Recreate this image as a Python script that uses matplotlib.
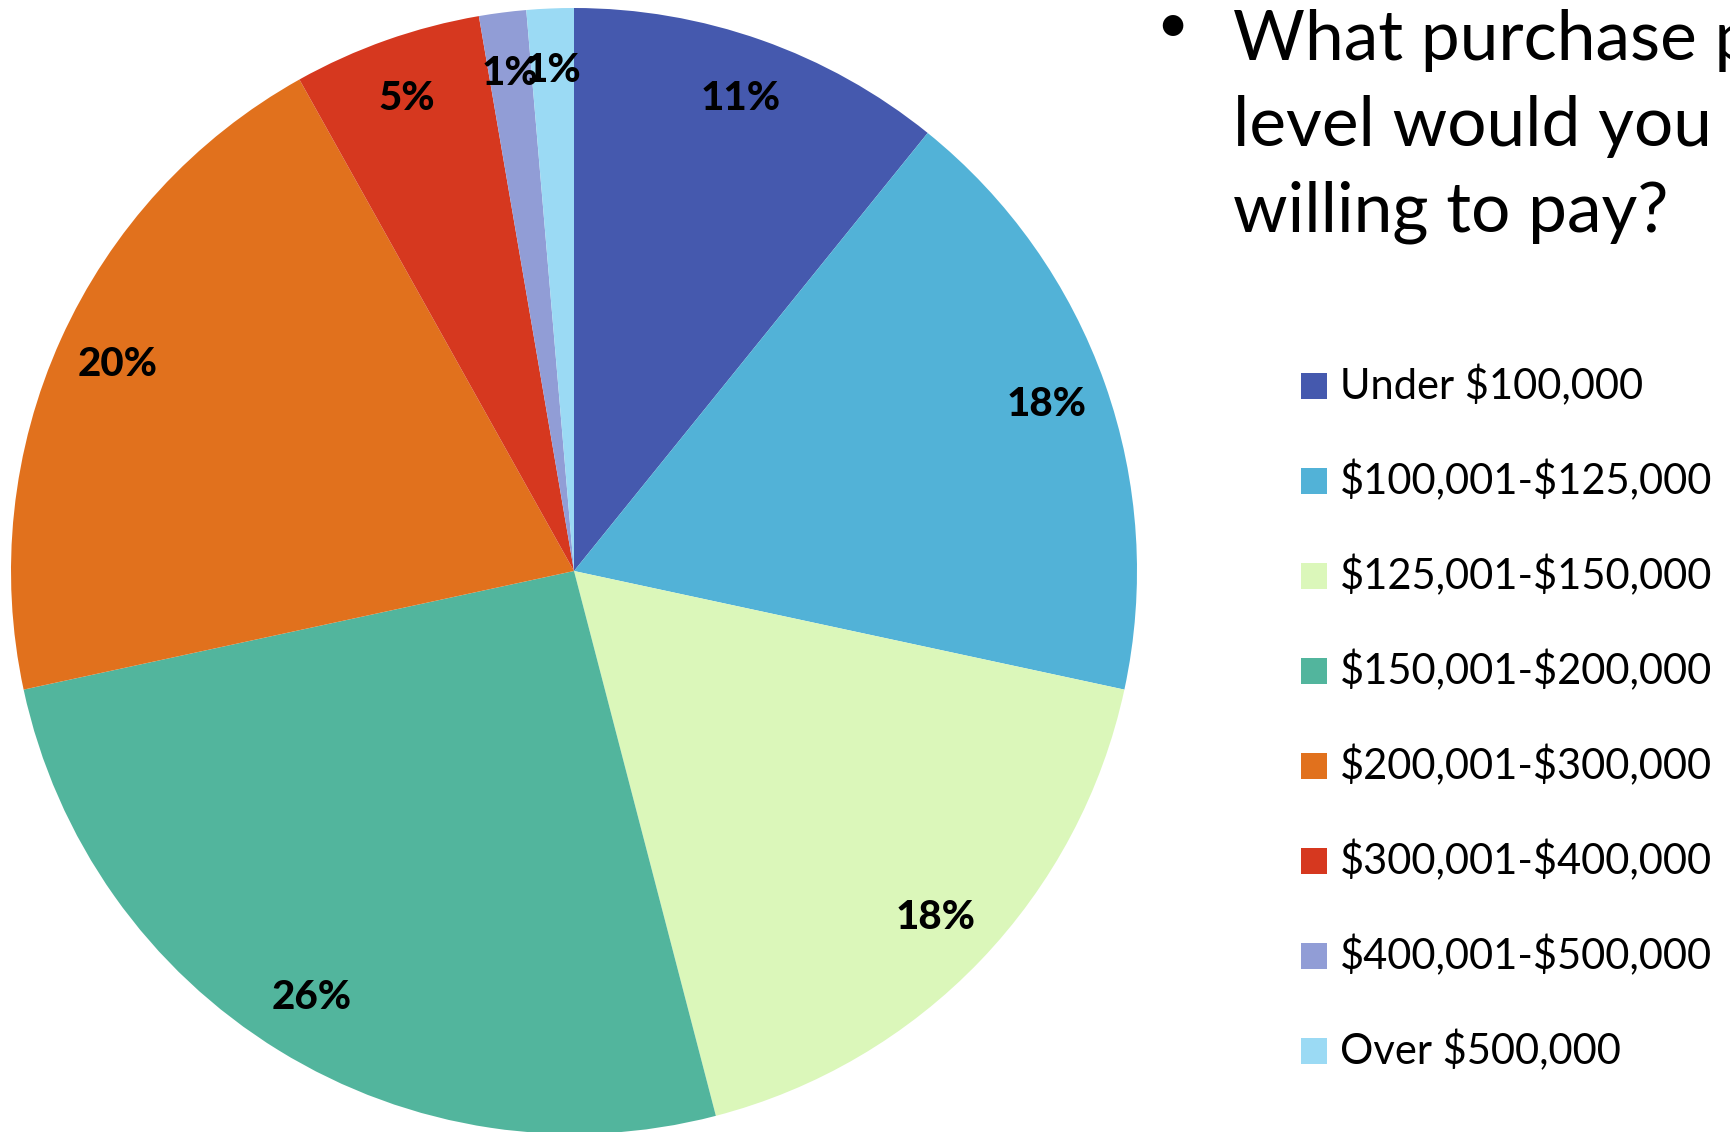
import matplotlib
matplotlib.use("Agg")
import matplotlib.pyplot as plt
from matplotlib.patches import Rectangle

categories = ["Under $100,000", "$100,001-$125,000", "$125,001-$150,000",
              "$150,001-$200,000", "$200,001-$300,000", "$300,001-$400,000",
              "$400,001-$500,000", "Over $500,000"]
counts = [8, 13, 13, 19, 15, 4, 1, 1]
colors = ["#4559AE", "#52B2D7", "#DBF7BA", "#52B59D",
          "#E1711D", "#D6381F", "#919DD6", "#9BDAF4"]
title_lines = ["What purchase price", "level would you be", "willing to pay?"]

plt.rcParams["text.usetex"] = False
plt.rcParams["text.parse_math"] = False

W, H = 1731, 1132
fig = plt.figure(figsize=(W / 100, H / 100), dpi=100)
fig.patch.set_facecolor("white")

FONT = "Lato"

# pie axes
cx, cy, R = 574, 571, 563
ax = fig.add_axes([(cx - R) / W, (H - cy - R) / H, 2 * R / W, 2 * R / H])
wedges, texts, autotexts = ax.pie(
    counts, colors=colors, startangle=90, counterclock=False,
    autopct=lambda p: f"{p:.0f}%", pctdistance=0.89, radius=1,
    wedgeprops=dict(linewidth=0),
    textprops=dict(fontsize=29, fontweight="black", family=FONT, color="black"))
ax.set_xlim(-1, 1)
ax.set_ylim(-1, 1)
ax.set_aspect("equal")
ax.axis("off")

# title text (clipped at figure edge)
fig.text(1172 / W, 1 - 27 / H, "\u2022", fontsize=40, family=FONT,
         ha="center", va="center", parse_math=False)
for i, line in enumerate(title_lines):
    fig.text(1233 / W, 1 - (60 + 86 * i) / H, line, fontsize=50,
             family=FONT, ha="left", va="baseline", parse_math=False)

# legend
y0, dy = 386, 95
for i, (lab, col) in enumerate(zip(categories, colors)):
    yc = y0 + dy * i
    fig.patches.append(Rectangle((1301 / W, 1 - (yc + 13) / H), 26 / W, 26 / H,
                                 transform=fig.transFigure, facecolor=col,
                                 edgecolor="none"))
    fig.text(1340 / W, 1 - yc / H, lab, fontsize=30, family=FONT,
             ha="left", va="center", parse_math=False)

fig.savefig("out.png", dpi=100)
